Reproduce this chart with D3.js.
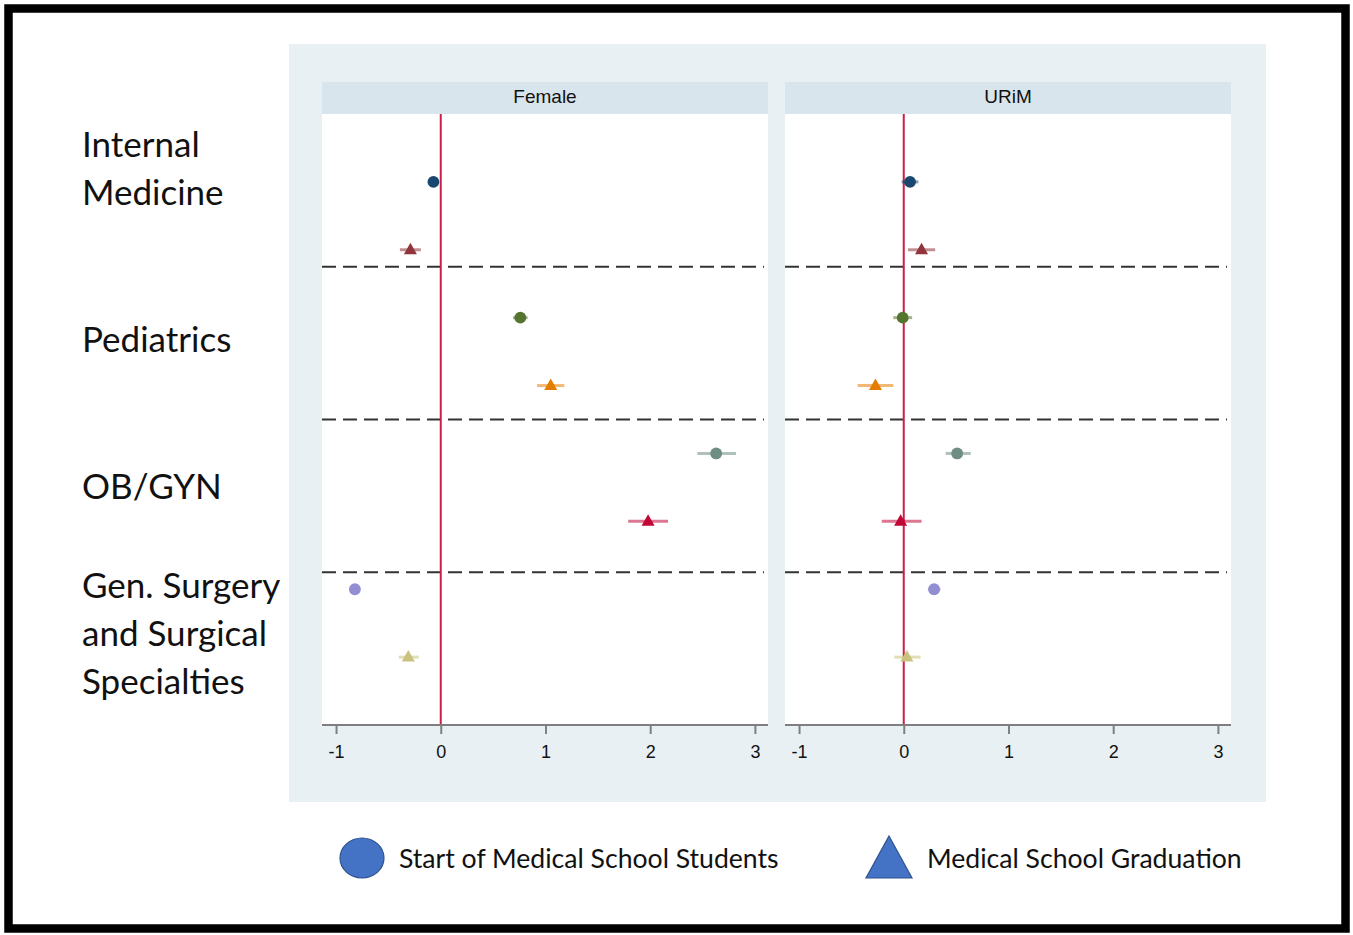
<!DOCTYPE html>
<html>
<head>
<meta charset="utf-8">
<script src="https://cdn.jsdelivr.net/npm/d3@7"></script>
<style>
  html, body { margin: 0; padding: 0; background: #ffffff; }
  svg { display: block; }
</style>
</head>
<body>
<svg id="chart" width="1353" height="935"></svg>
<script>
// Specialty groups (two rows each: start of school, graduation)
const specialties = ["Internal Medicine", "Pediatrics", "OB/GYN", "Gen. Surgery and Surgical Specialties"];
const specialtyLines = [["Internal", "Medicine"], ["Pediatrics"], ["OB/GYN"], ["Gen. Surgery", "and Surgical", "Specialties"]];
const panels = ["Female", "URiM"];
const timepoints = ["Start of Medical School Students", "Medical School Graduation"];

// Estimates and confidence limits per row (IM start, IM grad, Peds start, Peds grad, OB start, OB grad, Surg start, Surg grad)
const femaleEst = [-0.07, -0.29, 0.76, 1.05, 2.63, 1.98, -0.82, -0.31];
const femaleLo  = [-0.12, -0.39, 0.69, 0.92, 2.45, 1.79, -0.85, -0.40];
const femaleHi  = [-0.02, -0.19, 0.83, 1.18, 2.82, 2.17, -0.79, -0.21];
const urimEst = [0.06, 0.17, -0.01, -0.27, 0.51, -0.03, 0.29, 0.03];
const urimLo  = [-0.02, 0.04, -0.10, -0.44, 0.40, -0.21, 0.23, -0.09];
const urimHi  = [0.14, 0.30, 0.08, -0.10, 0.64, 0.17, 0.35, 0.16];

const rowColors = ["#1a476f", "#90353b", "#55752f", "#e37e00", "#6e8e84", "#c10534", "#938dd2", "#cac27e"];
const xTicks = [-1, 0, 1, 2, 3];
const separators = [1.25, 3.5, 5.75];

const svg = d3.select("#chart");

// outer frame
svg.append("rect").attr("x", 8.5).attr("y", 8.5).attr("width", 1337).attr("height", 920)
  .attr("fill", "#ffffff").attr("stroke", "#000000").attr("stroke-width", 8.5);

// graph region background
svg.append("rect").attr("x", 289).attr("y", 44).attr("width", 977).attr("height", 758).attr("fill", "#e8f0f3");

const plotTop = 114, plotBottom = 725;
const y = d3.scaleLinear().domain([-1, 8]).range([plotTop, plotBottom]);

const panelDefs = [
  { name: panels[0], left: 322, right: 768, est: femaleEst, lo: femaleLo, hi: femaleHi },
  { name: panels[1], left: 785, right: 1231, est: urimEst, lo: urimLo, hi: urimHi }
];

panelDefs.forEach(p => {
  const x = d3.scaleLinear().domain([-1.134, 3.125]).range([p.left, p.right]);
  const g = svg.append("g");

  // header strip
  g.append("rect").attr("x", p.left).attr("y", 82).attr("width", p.right - p.left).attr("height", 32).attr("fill", "#d9e5ec");
  g.append("text").attr("x", (p.left + p.right) / 2).attr("y", 96).attr("text-anchor", "middle")
    .attr("dominant-baseline", "central").attr("font-family", "Liberation Sans, Arial, sans-serif")
    .attr("font-size", 19).attr("fill", "#111").text(p.name);

  // plot area
  g.append("rect").attr("x", p.left).attr("y", plotTop).attr("width", p.right - p.left).attr("height", plotBottom - plotTop).attr("fill", "#ffffff");

  // dashed group separators
  g.selectAll("line.sep").data(separators).join("line").attr("class", "sep")
    .attr("x1", p.left).attr("x2", p.right - 4).attr("y1", d => y(d)).attr("y2", d => y(d))
    .attr("stroke", "#333333").attr("stroke-width", 2.2).attr("stroke-dasharray", "14,7");

  // reference line at zero
  g.append("line").attr("x1", x(0)).attr("x2", x(0)).attr("y1", plotTop).attr("y2", plotBottom)
    .attr("stroke", "#cc1e47").attr("stroke-width", 2);

  // x axis
  const axis = d3.axisBottom(x).tickValues(xTicks).tickSize(9).tickPadding(11).tickFormat(d3.format("d"));
  const ax = g.append("g").attr("transform", `translate(0,${plotBottom})`).call(axis);
  ax.select(".domain").attr("stroke", "#7f7f7f").attr("stroke-width", 2).attr("d", `M${p.left},0H${p.right}`);
  ax.selectAll(".tick line").attr("stroke", "#7f7f7f").attr("stroke-width", 2);
  ax.selectAll(".tick text").attr("font-family", "Liberation Sans, Arial, sans-serif").attr("font-size", 18).attr("fill", "#111")
    .text(d => d < 0 ? "-" + Math.abs(d) : d);

  const rows = p.est.map((e, i) => ({ i, e, lo: p.lo[i], hi: p.hi[i], c: rowColors[i] }));

  // confidence intervals
  g.selectAll("line.ci").data(rows).join("line").attr("class", "ci")
    .attr("x1", d => x(d.lo)).attr("x2", d => x(d.hi)).attr("y1", d => y(d.i)).attr("y2", d => y(d.i))
    .attr("stroke", d => d.c).attr("stroke-opacity", 0.55).attr("stroke-width", 3);

  // point markers: circles for start, triangles for graduation
  g.selectAll("path.pt").data(rows).join("path").attr("class", "pt")
    .attr("transform", d => `translate(${x(d.e)},${y(d.i)})`)
    .attr("d", d => d.i % 2 === 0
      ? d3.symbol(d3.symbolCircle, 110)()
      : "M0,-7L6.5,4.5L-6.5,4.5Z")
    .attr("fill", d => d.c);
});

// row group labels
const labelCenters = [-0.22, 2.3, 4.46, 6.63];
const lineGap = 48;
specialtyLines.forEach((lines, k) => {
  const cy = y(labelCenters[k]);
  lines.forEach((t, j) => {
    svg.append("text").attr("x", 82).attr("y", cy + (j - (lines.length - 1) / 2) * lineGap)
      .attr("dominant-baseline", "central").attr("font-family", "Lato, 'Open Sans', sans-serif")
      .attr("font-size", 35).attr("fill", "#111").text(t);
  });
});

// legend
const lg = svg.append("g");
lg.append("ellipse").attr("cx", 362).attr("cy", 858).attr("rx", 22).attr("ry", 20)
  .attr("fill", "#4472c4").attr("stroke", "#2f528f").attr("stroke-width", 1.2);
lg.append("text").attr("x", 399).attr("y", 858).attr("dominant-baseline", "central")
  .attr("font-family", "Lato, 'Open Sans', sans-serif").attr("font-size", 26.6).attr("fill", "#111").text(timepoints[0]);
lg.append("path").attr("d", "M889,836L912,878L866,878Z").attr("fill", "#4472c4").attr("stroke", "#2f528f").attr("stroke-width", 1.2);
lg.append("text").attr("x", 927).attr("y", 858).attr("dominant-baseline", "central")
  .attr("font-family", "Lato, 'Open Sans', sans-serif").attr("font-size", 26.6).attr("fill", "#111").text(timepoints[1]);
</script>
</body>
</html>
